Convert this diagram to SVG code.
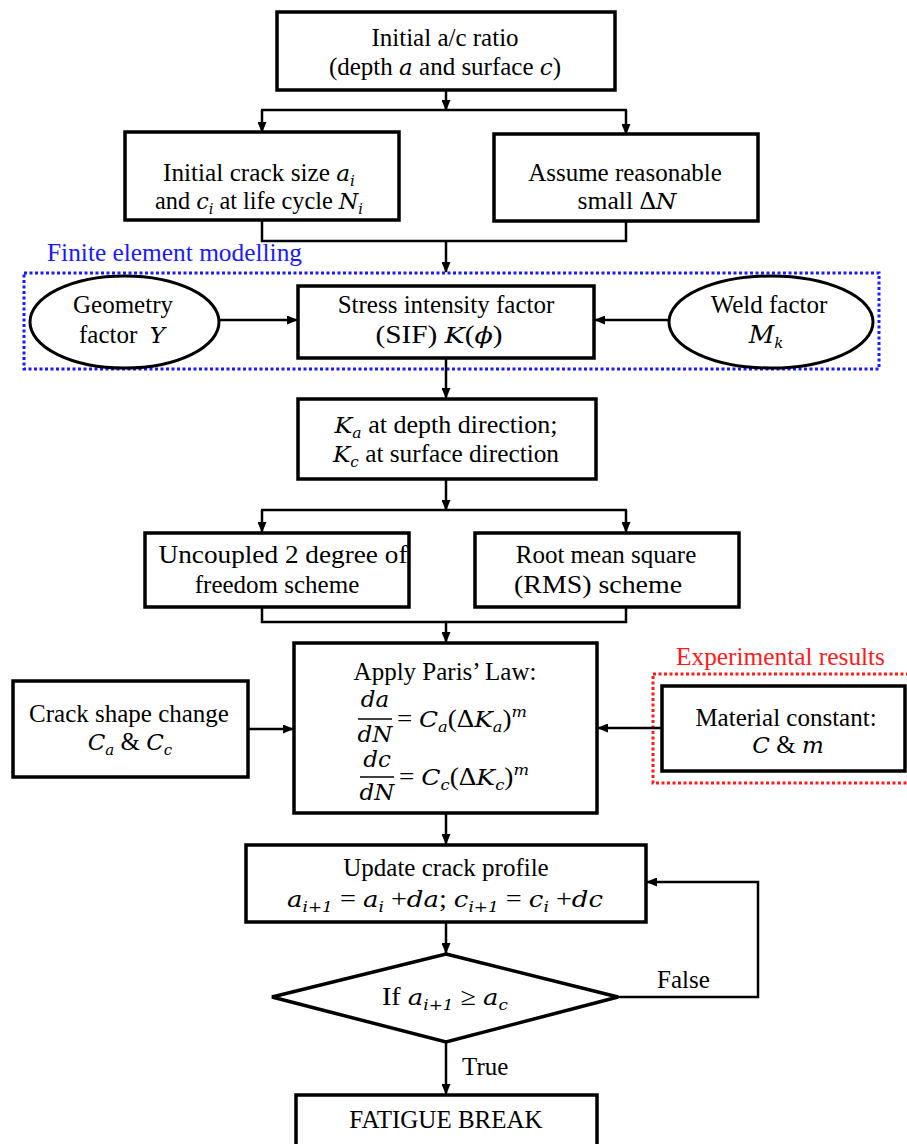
<svg xmlns="http://www.w3.org/2000/svg" width="907" height="1144" viewBox="0 0 907 1144" font-family="'Liberation Serif', serif">
  <defs>
    <style>
      .box { fill: #ffffff; stroke: #000000; stroke-width: 3.5; }
      .ell { fill: #ffffff; stroke: #000000; stroke-width: 3; }
      .wire { fill: none; stroke: #000000; stroke-width: 2.5; }
      .arrow { fill: none; stroke: #000000; stroke-width: 2.5; marker-end: url(#head); }
      .frac { stroke: #000000; stroke-width: 1.5; }
      text { font-family: 'Liberation Serif', serif; font-size: 25px; fill: #000000; }
      .c { text-anchor: middle; }
      .m { font-family: 'DejaVu Serif', 'Liberation Serif', serif; font-style: italic; font-size: 23px; }
      .s { font-size: 15px; }
      .fe { fill: none; stroke: #1a1aff; stroke-width: 3; stroke-dasharray: 3 2.5; }
      .ex { fill: none; stroke: #ff1a1a; stroke-width: 3; stroke-dasharray: 3 2.5; }
    </style>
    <marker id="head" markerUnits="userSpaceOnUse" markerWidth="11" markerHeight="9" refX="10" refY="4.5" orient="auto">
      <path d="M0,0 L11,4.5 L0,9 Z" fill="#000000"/>
    </marker>
  </defs>

  <!-- group outlines -->
  <g id="fem-group">
    <rect class="fe" x="24" y="273" width="855" height="96"/>
    <text x="47" y="261" textLength="255" lengthAdjust="spacingAndGlyphs" style="fill:#1a1aff">Finite element modelling</text>
  </g>
  <g id="exp-group">
    <rect class="ex" x="653" y="674" width="262" height="109"/>
    <text x="676" y="665" textLength="209" lengthAdjust="spacingAndGlyphs" style="fill:#ff1a1a">Experimental results</text>
  </g>

  <!-- connectors -->
  <g id="connectors">
    <line class="arrow" x1="446" y1="90" x2="446" y2="110"/>
    <line class="wire" x1="261" y1="110" x2="627" y2="110"/>
    <line class="arrow" x1="262" y1="110" x2="262" y2="132"/>
    <line class="arrow" x1="626" y1="110" x2="626" y2="134"/>

    <polyline class="wire" points="262,220 262,241 626,241 626,221"/>
    <line class="arrow" x1="446" y1="241" x2="446" y2="272"/>

    <line class="arrow" x1="219" y1="320" x2="297" y2="320"/>
    <line class="arrow" x1="669" y1="320" x2="595" y2="320"/>
    <line class="arrow" x1="446" y1="358" x2="446" y2="398"/>

    <line class="arrow" x1="446" y1="479" x2="446" y2="510"/>
    <line class="wire" x1="261" y1="510" x2="627" y2="510"/>
    <line class="arrow" x1="262" y1="510" x2="262" y2="532"/>
    <line class="arrow" x1="626" y1="510" x2="626" y2="532"/>

    <polyline class="wire" points="262,607 262,622 626,622 626,607"/>
    <line class="arrow" x1="446" y1="622" x2="446" y2="642"/>

    <line class="arrow" x1="248" y1="729" x2="293" y2="729"/>
    <line class="arrow" x1="662" y1="728" x2="598" y2="728"/>

    <line class="arrow" x1="446" y1="813" x2="446" y2="844"/>
    <line class="arrow" x1="446" y1="922" x2="446" y2="953"/>
    <polyline class="arrow" points="618,997 758,997 758,882 647,882"/>
    <line class="arrow" x1="446" y1="1042" x2="446" y2="1094"/>
    <text x="657" y="988">False</text>
    <text x="462" y="1075">True</text>
  </g>

  <!-- nodes -->
  <g id="n-initial-ratio">
    <rect class="box" x="277" y="12" width="338" height="78"/>
    <text class="c" x="445" y="46">Initial a/c ratio</text>
    <text class="c" x="445" y="75">(depth <tspan class="m">a</tspan> and surface <tspan class="m">c</tspan>)</text>
  </g>

  <g id="n-initial-crack">
    <rect class="box" x="125" y="132" width="274" height="88"/>
    <text class="c" x="259" y="181" textLength="192" lengthAdjust="spacingAndGlyphs">Initial crack size <tspan class="m">a</tspan><tspan class="m s" dy="5">i</tspan></text>
    <text class="c" x="259" y="209" textLength="208" lengthAdjust="spacingAndGlyphs">and <tspan class="m">c</tspan><tspan class="m s" dy="5">i</tspan><tspan dy="-5"> at life cycle </tspan><tspan class="m">N</tspan><tspan class="m s" dy="5">i</tspan></text>
  </g>

  <g id="n-assume-dn">
    <rect class="box" x="494" y="134" width="264" height="87"/>
    <text class="c" x="625" y="181">Assume reasonable</text>
    <text class="c" x="627" y="209" textLength="99" lengthAdjust="spacingAndGlyphs">small Δ<tspan class="m">N</tspan></text>
  </g>

  <g id="n-geometry">
    <ellipse class="ell" cx="124.5" cy="322" rx="94.5" ry="46"/>
    <text class="c" x="123" y="313">Geometry</text>
    <text class="c" x="122" y="343" xml:space="preserve">factor  <tspan class="m">Y</tspan></text>
  </g>

  <g id="n-sif">
    <rect class="box" x="298" y="286" width="296" height="72"/>
    <text class="c" x="446" y="313">Stress intensity factor</text>
    <text class="c" x="439" y="343" textLength="127" lengthAdjust="spacingAndGlyphs">(SIF) <tspan class="m">K</tspan>(<tspan class="m">ϕ</tspan>)</text>
  </g>

  <g id="n-weld">
    <ellipse class="ell" cx="771" cy="322" rx="102" ry="46"/>
    <text class="c" x="769" y="313">Weld factor</text>
    <text class="c" x="766" y="343"><tspan class="m" style="font-size:25px">M</tspan><tspan class="m s" dy="5">k</tspan></text>
  </g>

  <g id="n-k-directions">
    <rect class="box" x="298" y="399" width="298" height="80"/>
    <text class="c" x="446" y="433" textLength="223" lengthAdjust="spacingAndGlyphs"><tspan class="m">K</tspan><tspan class="m s" dy="5">a</tspan><tspan dy="-5"> at depth direction;</tspan></text>
    <text class="c" x="446" y="462" textLength="226" lengthAdjust="spacingAndGlyphs"><tspan class="m">K</tspan><tspan class="m s" dy="5">c</tspan><tspan dy="-5"> at surface direction</tspan></text>
  </g>

  <g id="n-uncoupled">
    <rect class="box" x="145" y="533" width="264" height="74"/>
    <text class="c" x="283" y="563" textLength="249" lengthAdjust="spacingAndGlyphs">Uncoupled 2 degree of</text>
    <text class="c" x="277" y="593">freedom scheme</text>
  </g>

  <g id="n-rms">
    <rect class="box" x="475" y="533" width="264" height="74"/>
    <text class="c" x="606" y="563">Root mean square</text>
    <text class="c" x="598" y="593" textLength="168" lengthAdjust="spacingAndGlyphs">(RMS) scheme</text>
  </g>

  <g id="n-paris">
    <rect class="box" x="294" y="643" width="303" height="170"/>
    <text class="c" x="445" y="680">Apply Paris’ Law:</text>
    <text class="c" x="375" y="707"><tspan class="m">da</tspan></text>
    <line class="frac" x1="358" y1="719" x2="392" y2="719"/>
    <text class="c" x="375" y="742"><tspan class="m">dN</tspan></text>
    <text x="397" y="727" textLength="130" lengthAdjust="spacingAndGlyphs">= <tspan class="m">C</tspan><tspan class="m s" dy="5">a</tspan><tspan dy="-5">(Δ</tspan><tspan class="m">K</tspan><tspan class="m s" dy="5">a</tspan><tspan dy="-5">)</tspan><tspan class="m s" dy="-10">m</tspan></text>
    <text class="c" x="377" y="767"><tspan class="m">dc</tspan></text>
    <line class="frac" x1="360" y1="777" x2="394" y2="777"/>
    <text class="c" x="377" y="800"><tspan class="m">dN</tspan></text>
    <text x="399" y="785" textLength="130" lengthAdjust="spacingAndGlyphs">= <tspan class="m">C</tspan><tspan class="m s" dy="5">c</tspan><tspan dy="-5">(Δ</tspan><tspan class="m">K</tspan><tspan class="m s" dy="5">c</tspan><tspan dy="-5">)</tspan><tspan class="m s" dy="-10">m</tspan></text>
  </g>

  <g id="n-crack-shape">
    <rect class="box" x="13" y="681" width="235" height="96"/>
    <text class="c" x="129" y="722">Crack shape change</text>
    <text class="c" x="130" y="750"><tspan class="m">C</tspan><tspan class="m s" dy="5">a</tspan><tspan dy="-5"> &amp; </tspan><tspan class="m">C</tspan><tspan class="m s" dy="5">c</tspan></text>
  </g>

  <g id="n-material">
    <rect class="box" x="662" y="686" width="243" height="85"/>
    <text class="c" x="786" y="726">Material constant:</text>
    <text class="c" x="788" y="753"><tspan class="m">C</tspan> &amp; <tspan class="m">m</tspan></text>
  </g>

  <g id="n-update">
    <rect class="box" x="246" y="845" width="400" height="77"/>
    <text class="c" x="446" y="876">Update crack profile</text>
    <text class="c" x="445" y="907" textLength="316" lengthAdjust="spacingAndGlyphs"><tspan class="m">a</tspan><tspan class="m s" dy="5">i+1</tspan><tspan dy="-5"> = </tspan><tspan class="m">a</tspan><tspan class="m s" dy="5">i</tspan><tspan dy="-5"> +</tspan><tspan class="m">da</tspan>; <tspan class="m">c</tspan><tspan class="m s" dy="5">i+1</tspan><tspan dy="-5"> = </tspan><tspan class="m">c</tspan><tspan class="m s" dy="5">i</tspan><tspan dy="-5"> +</tspan><tspan class="m">dc</tspan></text>
  </g>

  <g id="n-check">
    <polygon class="box" points="446,954 618,997 446,1042 272,997"/>
    <text class="c" x="445" y="1005" textLength="126" lengthAdjust="spacingAndGlyphs">If <tspan class="m">a</tspan><tspan class="m s" dy="5">i+1</tspan><tspan dy="-5"> ≥ </tspan><tspan class="m">a</tspan><tspan class="m s" dy="5">c</tspan></text>
  </g>

  <g id="n-fatigue">
    <rect class="box" x="296" y="1095" width="301" height="70"/>
    <text class="c" x="446" y="1128">FATIGUE BREAK</text>
  </g>
</svg>
